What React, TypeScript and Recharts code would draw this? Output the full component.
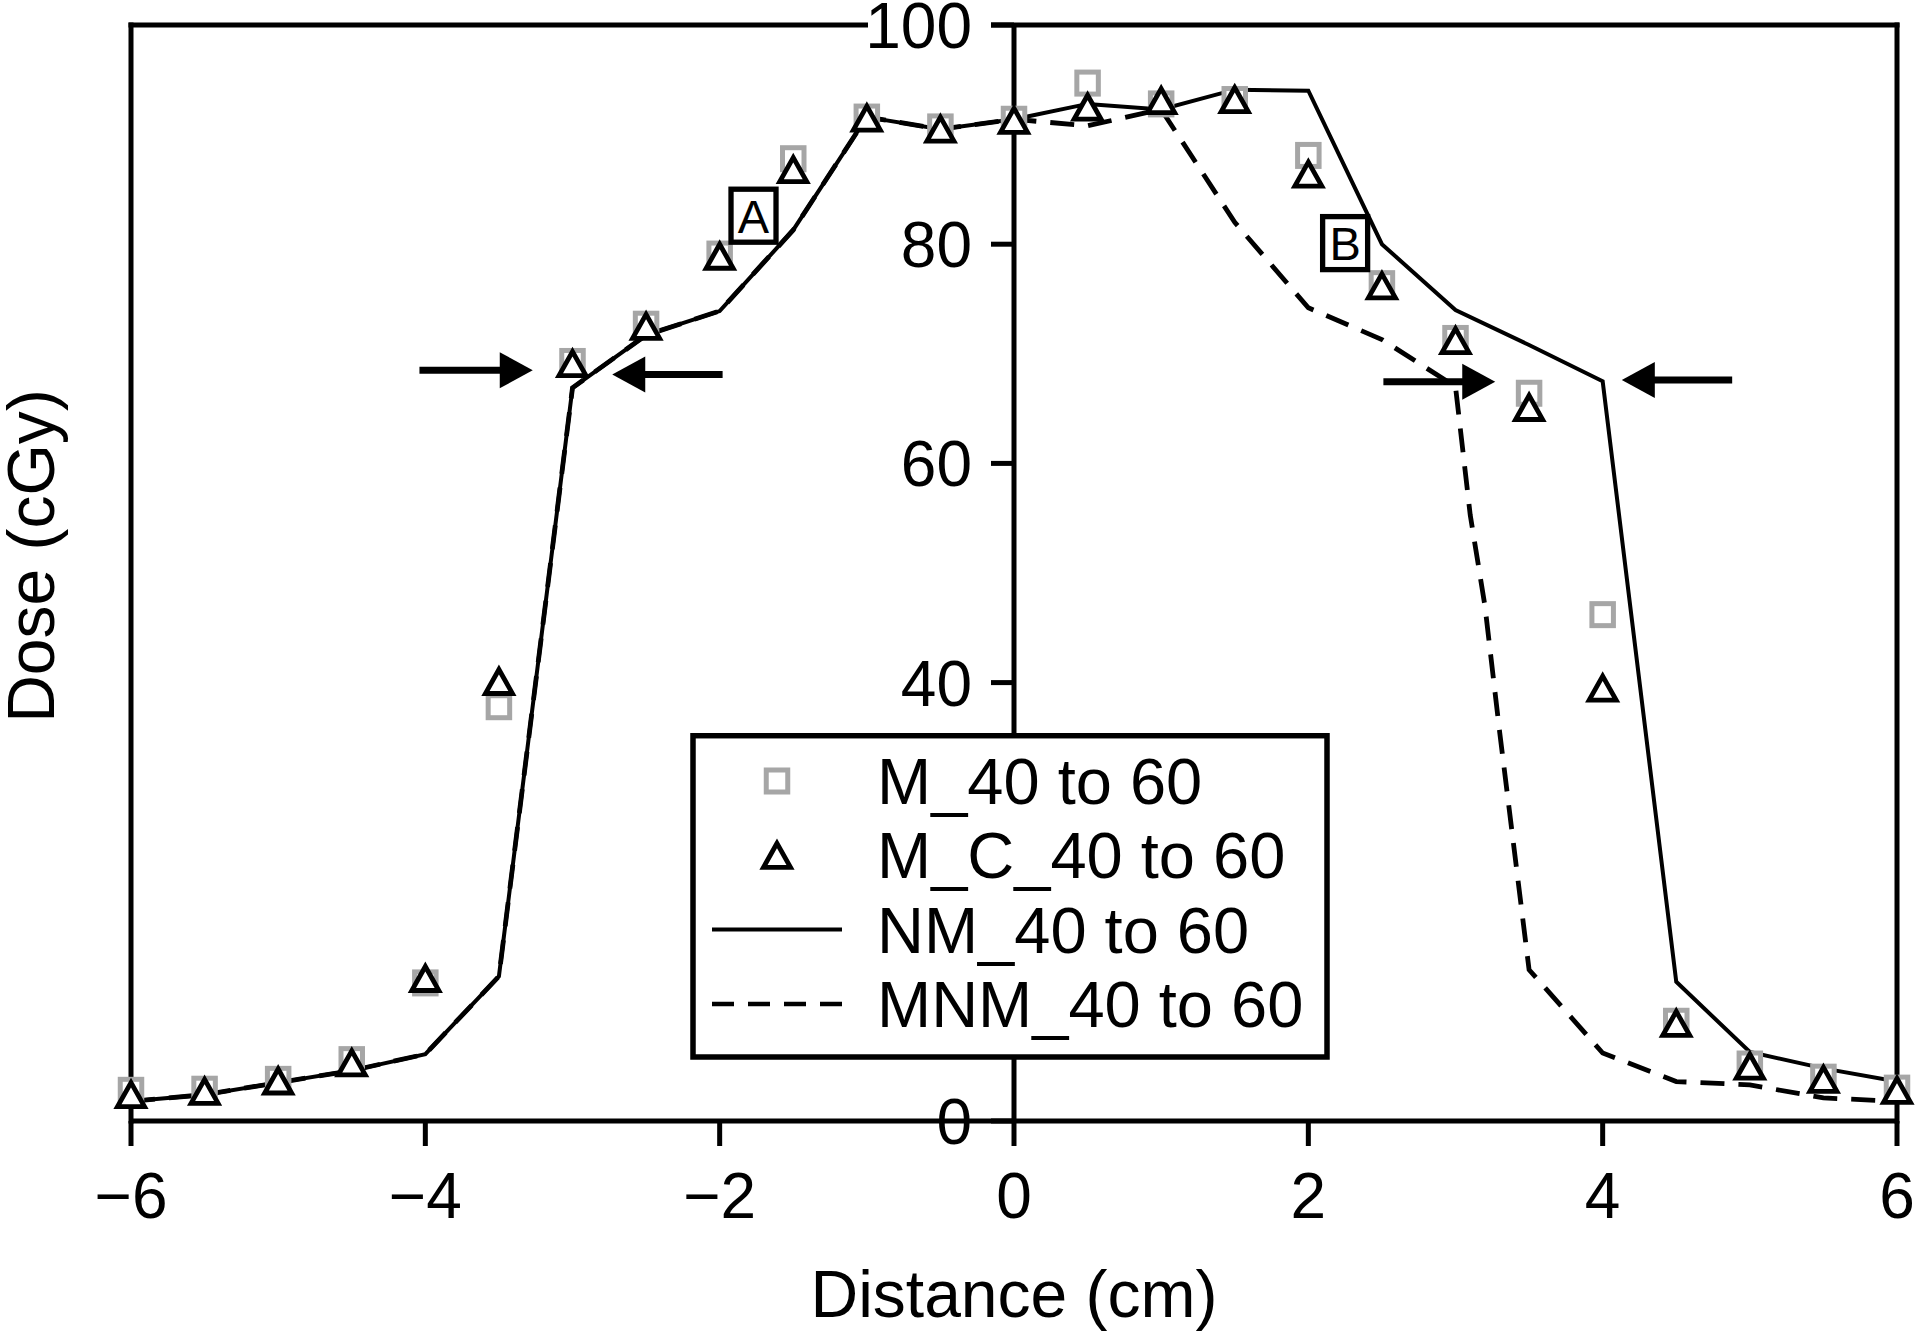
import React from 'react';
import {
  ComposedChart,
  Line,
  Scatter,
  XAxis,
  YAxis,
  ReferenceLine,
  ReferenceDot,
  Legend,
} from 'recharts';

// ---------- data ----------
const distances = [-6, -5.5, -5, -4.5, -4, -3.5, -3, -2.5, -2, -1.5, -1, -0.5, 0, 0.5, 1, 1.5, 2, 2.5, 3, 3.5, 4, 4.5, 5, 5.5, 6];
const mValues = [2.8, 2.9, 3.8, 5.6, 12.6, 37.8, 69.3, 72.7, 79.1, 87.8, 91.6, 90.7, 91.4, 94.7, 92.8, 93.2, 88.1, 76.4, 71.4, 66.4, 46.2, 9.1, 5.2, 4.0, 3.0];
const mcValues = [2.4, 2.7, 3.65, 5.3, 13.0, 40.1, 69.1, 72.5, 78.9, 86.8, 91.5, 90.5, 91.3, 92.5, 93.1, 93.2, 86.4, 76.2, 71.2, 65.1, 39.5, 8.9, 5.0, 3.8, 2.8];
const nmValues = [1.8, 2.4, 3.5, 4.6, 6.1, 13.2, 66.9, 71.7, 73.9, 81.3, 91.6, 90.5, 91.4, 92.8, 92.3, 94.1, 94.0, 80.0, 74.0, 70.8, 67.5, 12.7, 6.3, 4.8, 3.6];
const mnmDistances = [-6, -5.5, -5, -4.5, -4, -3.5, -3, -2.5, -2, -1.5, -1, -0.5, 0, 0.5, 1, 1.5, 2, 2.5, 3, 3.1, 3.2, 3.3, 3.5, 4, 4.5, 5, 5.5, 6];
const mnmValues = [1.8, 2.4, 3.5, 4.6, 6.1, 13.2, 66.9, 71.7, 73.9, 81.3, 91.6, 90.5, 91.4, 90.8, 92.3, 82.0, 74.2, 71.3, 67.0, 55.3, 47.0, 35.5, 13.8, 6.2, 3.6, 3.3, 2.1, 1.8];

const xTicks = [-6, -4, -2, 0, 2, 4, 6];
const yTicks = [0, 20, 40, 60, 80, 100];
const seriesNames = ['M_40 to 60', 'M_C_40 to 60', 'NM_40 to 60', 'MNM_40 to 60'];
const xLabel = 'Distance (cm)';
const yLabel = 'Dose (cGy)';

// annotation arrows (data coordinates: start -> tip)
const arrowStartX = [-4.04, -1.98, 2.51, 4.88];
const arrowTipX = [-3.27, -2.73, 3.27, 4.13];
const arrowY = [68.5, 68.1, 67.45, 67.6];
// boxed letters
const boxLetters = ['A', 'B'];
const boxX = [-1.77, 2.25];
const boxY = [82.6, 80.1];

// ---------- derived tables ----------
const mData = distances.map((x, i) => ({ x, y: mValues[i] }));
const mcData = distances.map((x, i) => ({ x, y: mcValues[i] }));
const nmData = distances.map((x, i) => ({ x, y: nmValues[i] }));
const mnmData = mnmDistances.map((x, i) => ({ x, y: mnmValues[i] }));

// ---------- styles ----------
const FONT = '"Liberation Sans", Arial, Helvetica, sans-serif';
const GREY = '#a6a6a6';
const DASH = '24 14';

const SquareShape = (p: any) => (
  <rect x={p.cx - 10.75} y={p.cy - 11} width={21.5} height={22} fill="#ffffff" stroke={GREY} strokeWidth={5} />
);
const TriangleShape = (p: any) => (
  <polygon
    points={`${p.cx},${p.cy - 12} ${p.cx - 13.5},${p.cy + 12} ${p.cx + 13.5},${p.cy + 12}`}
    fill="#ffffff"
    stroke="#000"
    strokeWidth={4.8}
    strokeLinejoin="miter"
  />
);

const ArrowShape = (p: any) => {
  const { x1, y1, x2, y2 } = p;
  const dir = Math.sign(x2 - x1);
  const headLen = 33;
  const headHalf = 18;
  const bx = x2 - dir * headLen;
  return (
    <g>
      <line x1={x1} y1={y1} x2={bx + dir * 2} y2={y2} stroke="#000" strokeWidth={7} />
      <polygon points={`${x2},${y2} ${bx},${y2 - headHalf} ${bx},${y2 + headHalf}`} fill="#000" />
    </g>
  );
};

const makeBox = (letter: string) => (p: any) => (
  <g>
    <rect x={p.cx - 22.5} y={p.cy - 26.5} width={45} height={53} fill="#ffffff" stroke="#000" strokeWidth={5.3} />
    <text x={p.cx} y={p.cy} dy="0.36em" textAnchor="middle" fontSize={47} fontFamily={FONT} fill="#000">
      {letter}
    </text>
  </g>
);

const makeYTick = (v: number, isTop: boolean) => (p: any) => (
  <g>
    {isTop && <rect x={p.cx - 146} y={p.cy - 8} width={123} height={16} fill="#ffffff" />}
    <line x1={p.cx - 23} y1={p.cy} x2={p.cx} y2={p.cy} stroke="#000" strokeWidth={5} />
    <text x={p.cx - 42} y={p.cy} dy="0.36em" textAnchor="end" fontSize={64} fontFamily={FONT} fill="#000">
      {v}
    </text>
  </g>
);

const XTick = (p: any) => {
  const v = p.payload.value;
  const s = v < 0 ? '\u2212' + Math.abs(v) : String(v);
  return (
    <text x={p.x} y={p.y} dy="0.71em" textAnchor="middle" fontSize={64} fontFamily={FONT} fill="#000">
      {s}
    </text>
  );
};

const XLabelContent = (p: any) => {
  const vb = p.viewBox || { x: 131, y: 1121, width: 1766, height: 211 };
  return (
    <text x={vb.x + vb.width / 2} y={vb.y + 196} textAnchor="middle" fontSize={66} fontFamily={FONT} fill="#000">
      {xLabel}
    </text>
  );
};

const YLabelContent = (p: any) => {
  const vb = p.viewBox || { x: 0, y: 25, width: 131, height: 1096 };
  const cx = vb.x + 54;
  const cy = vb.y + vb.height / 2 - 17;
  return (
    <text x={cx} y={cy} transform={`rotate(-90 ${cx} ${cy})`} textAnchor="middle" fontSize={66} fontFamily={FONT} fill="#000">
      {yLabel}
    </text>
  );
};

const LegendContent = () => {
  const base = 71;
  const step = 74.3;
  return (
    <svg width={640} height={327} style={{ display: 'block' }}>
      <rect x={3} y={2.7} width={634} height={321.3} fill="#ffffff" stroke="#000" strokeWidth={5.5} />
      {seriesNames.map((name, i) => {
        const by = base + i * step;
        const sy = by - 23;
        let sym: React.ReactNode = null;
        if (i === 0) sym = <SquareShape cx={87} cy={sy} />;
        if (i === 1) sym = <TriangleShape cx={87} cy={sy} />;
        if (i === 2) sym = <line x1={22} y1={sy} x2={152} y2={sy} stroke="#000" strokeWidth={4} />;
        if (i === 3) sym = <line x1={22} y1={sy} x2={152} y2={sy} stroke="#000" strokeWidth={4.5} strokeDasharray="22 14" />;
        return (
          <g key={name}>
            {sym}
            <text x={187} y={by} fontSize={65} fontFamily={FONT} fill="#000">
              {name}
            </text>
          </g>
        );
      })}
    </svg>
  );
};

export default function App() {
  return (
    <div style={{ width: 1920, height: 1332, background: '#fff' }}>
      <style>{'body{margin:0;background:#fff}'}</style>
      <ComposedChart width={1920} height={1332} margin={{ top: 25, right: 23, bottom: 0, left: 0 }}>
        <XAxis
          type="number"
          dataKey="x"
          domain={[-6, 6]}
          ticks={xTicks}
          interval={0}
          height={211}
          axisLine={{ stroke: '#000', strokeWidth: 5 }}
          tickLine={{ stroke: '#000', strokeWidth: 5 }}
          tickSize={25}
          tickMargin={27}
          tick={XTick}
          label={XLabelContent}
        />
        <YAxis
          type="number"
          dataKey="y"
          domain={[0, 100]}
          width={131}
          axisLine={false}
          tickLine={false}
          tick={false}
          label={YLabelContent}
        />

        {/* frame */}
        <ReferenceLine y={100} stroke="#000" strokeWidth={5} strokeLinecap="square" />
        <ReferenceLine x={-6} stroke="#000" strokeWidth={5} strokeLinecap="square" />
        <ReferenceLine x={6} stroke="#000" strokeWidth={5} strokeLinecap="square" />
        {/* central y axis */}
        <ReferenceLine x={0} stroke="#000" strokeWidth={5} />

        <Line data={nmData} dataKey="y" name={seriesNames[2]} stroke="#000" strokeWidth={4} dot={false} activeDot={false} isAnimationActive={false} type="linear" />
        <Line data={mnmData} dataKey="y" name={seriesNames[3]} stroke="#000" strokeWidth={4.8} strokeDasharray={DASH} dot={false} activeDot={false} isAnimationActive={false} type="linear" />
        <Scatter data={mData} dataKey="y" name={seriesNames[0]} shape={SquareShape} isAnimationActive={false} />
        <Scatter data={mcData} dataKey="y" name={seriesNames[1]} shape={TriangleShape} isAnimationActive={false} />

        {yTicks.map((v, i) => (
          <ReferenceDot key={'yt' + v} x={0} y={v} r={0} shape={makeYTick(v, i === yTicks.length - 1)} />
        ))}

        {arrowStartX.map((sx, i) => (
          <ReferenceLine
            key={'arr' + i}
            segment={[
              { x: sx, y: arrowY[i] },
              { x: arrowTipX[i], y: arrowY[i] },
            ]}
            shape={ArrowShape}
          />
        ))}

        {boxLetters.map((l, i) => (
          <ReferenceDot key={'box' + l} x={boxX[i]} y={boxY[i]} r={0} shape={makeBox(l)} />
        ))}

        <Legend
          layout="vertical"
          align="center"
          verticalAlign="middle"
          width={640}
          height={327}
          content={LegendContent}
          wrapperStyle={{ left: 690, top: 733, width: 640, height: 327, margin: 0, padding: 0 }}
        />
      </ComposedChart>
    </div>
  );
}
